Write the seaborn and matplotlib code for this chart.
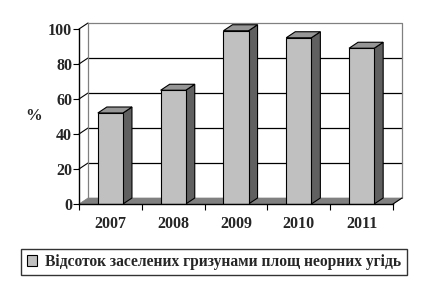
import matplotlib
matplotlib.use("Agg")
import matplotlib.pyplot as plt
from matplotlib.patches import Polygon, Patch
from matplotlib.lines import Line2D
import seaborn as sns
import pandas as pd

years = ["2007", "2008", "2009", "2010", "2011"]
values = [52, 65, 99, 95, 89]
yticks = [0, 20, 40, 60, 80, 100]
ylabel = "%"
legend_label = "Відсоток заселених гризунами площ неорних угідь"

sns.set_theme(style="white")
plt.rcParams["font.family"] = ["Liberation Serif", "DejaVu Serif"]
plt.rcParams["font.weight"] = "bold"

df = pd.DataFrame({"year": years, "value": values})

fig = plt.figure(figsize=(4.28, 2.85), dpi=100)
ax = fig.add_axes([79 / 428, 1 - 204 / 285, 314 / 428, 175 / 285])

FRONT = "#C0C0C0"
SIDE = "#606060"
TOP = "#969696"

sns.barplot(data=df, x="year", y="value", color=FRONT, width=0.4,
            edgecolor="black", linewidth=0.8, saturation=1, ax=ax, zorder=3)

ax.set_xlim(-0.5, len(years) - 0.5)
ax.set_ylim(0, 100)

# depth offset in data units (9 px right, 6 px up)
ax_w_px = 314.0
ax_h_px = 175.0
dx = 9 * (len(years)) / ax_w_px
dy = 6 * 100 / ax_h_px
x0, x1 = -0.5, len(years) - 0.5

# floor
ax.add_patch(Polygon([(x0, 0), (x1, 0), (x1 + dx, dy), (x0 + dx, dy)],
                     closed=True, facecolor="#808080", edgecolor="#808080",
                     lw=0.5, zorder=1, clip_on=False))
# back wall gridlines
for v in yticks[1:-1]:
    ax.add_line(Line2D([x0 + dx, x1 + dx], [v + dy, v + dy], color="black",
                       lw=0.9, zorder=0.5, clip_on=False))
    ax.add_line(Line2D([x0, x0 + dx], [v, v + dy], color="black",
                       lw=0.8, zorder=0.5, clip_on=False))
ax.add_line(Line2D([x0, x0 + dx], [100, 100 + dy], color="black",
                   lw=0.8, zorder=0.5, clip_on=False))
# back wall frame
ax.add_line(Line2D([x0 + dx, x1 + dx, x1 + dx], [100 + dy, 100 + dy, dy],
                   color="#808080", lw=0.9, zorder=0.5, clip_on=False))
ax.add_line(Line2D([x0 + dx, x0 + dx], [dy, 100 + dy],
                   color="#808080", lw=0.9, zorder=0.5, clip_on=False))
ax.add_line(Line2D([x1, x1 + dx], [0, dy], color="black",
                   lw=0.8, zorder=1.5, clip_on=False))

# 3D sides and tops of bars
for p in ax.patches[:]:
    if isinstance(p, Polygon):
        continue
    bx = p.get_x()
    bw = p.get_width()
    bh = p.get_height()
    side = Polygon([(bx + bw, 0), (bx + bw + dx, dy), (bx + bw + dx, bh + dy),
                    (bx + bw, bh)], closed=True, facecolor=SIDE,
                   edgecolor="black", lw=0.8, zorder=2.9, clip_on=False)
    top = Polygon([(bx, bh), (bx + dx, bh + dy), (bx + bw + dx, bh + dy),
                   (bx + bw, bh)], closed=True, facecolor=TOP,
                  edgecolor="black", lw=0.8, zorder=2.9, clip_on=False)
    ax.add_patch(side)
    ax.add_patch(top)

for s in ["top", "right"]:
    ax.spines[s].set_visible(False)
for s in ["left", "bottom"]:
    ax.spines[s].set_color("black")
    ax.spines[s].set_linewidth(1.0)
    ax.spines[s].set_zorder(4)

ax.set_yticks(yticks)
ax.set_yticklabels([str(v) for v in yticks], fontsize=11.5, fontweight="bold")
ax.tick_params(axis="y", direction="out", length=4, width=0.8, color="black",
               left=True, pad=1)
ax.set_xticks(range(len(years)))
ax.set_xticklabels(years, fontsize=11.5, fontweight="bold")
ax.tick_params(axis="x", which="major", length=0, pad=9)
ax.set_xticks([i + 0.5 for i in range(-1, len(years))], minor=True)
ax.tick_params(axis="x", which="minor", direction="out", length=4, width=0.8,
               color="black", bottom=True)
ax.set_xlabel("")
ax.set_ylabel(ylabel, fontsize=12, fontweight="bold", rotation=0,
              va="center", ha="center")
ax.yaxis.set_label_coords(-0.145, 0.5)

handle = Patch(facecolor=FRONT, edgecolor="black", lw=0.8)
leg = fig.legend([handle], [legend_label], loc="center",
                 bbox_to_anchor=(214 / 428, 1 - 262 / 285), frameon=True,
                 fancybox=False, prop={"size": 11.2, "weight": "bold"},
                 handlelength=0.7, handleheight=0.7, handletextpad=0.5,
                 borderpad=0.35, borderaxespad=0)
leg.get_frame().set_edgecolor("black")
leg.get_frame().set_linewidth(1.0)

fig.savefig("out.png", dpi=100)
